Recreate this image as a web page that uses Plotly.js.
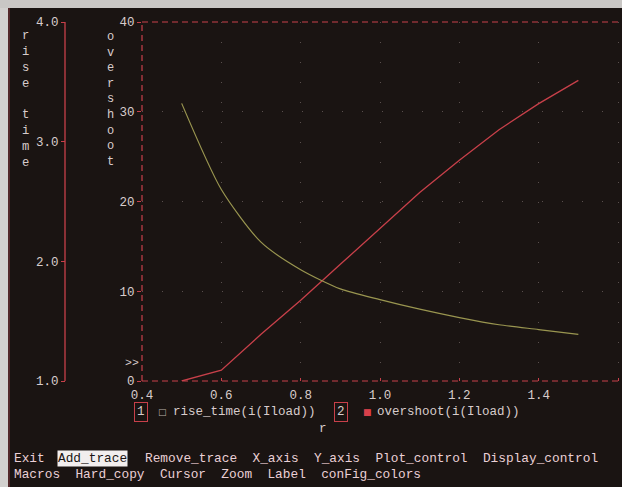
<!DOCTYPE html>
<html>
<head>
<meta charset="utf-8">
<script src="https://cdn.plot.ly/plotly-3.0.1.min.js"></script>
<style>
html,body{margin:0;padding:0;background:#1a1412;}
#chart{width:622px;height:487px;}
</style>
</head>
<body>
<div id="chart"></div>
<script>
// ---- data ----
const rValues = [0.5, 0.6, 0.7, 0.8, 0.9, 1.0, 1.1, 1.2, 1.3, 1.4, 1.5];
const riseTime = [3.32, 2.60, 2.16, 1.93, 1.77, 1.68, 1.60, 1.53, 1.47, 1.43, 1.39];
const overshoot = [0.0, 1.2, 5.2, 9.0, 13.0, 17.0, 21.0, 24.6, 28.0, 30.9, 33.5];
const xTicks = [0.4, 0.6, 0.8, 1.0, 1.2, 1.4, 1.6];
const overshootTicks = [0, 10, 20, 30, 40];
const riseTimeTicks = [1.0, 2.0, 3.0, 4.0];
const traceNames = ["rise_time(i(Iload))", "overshoot(i(Iload))"];
const menuLine1 = ["Exit", "Add_trace", "Remove_trace", "X_axis", "Y_axis", "Plot_control", "Display_control"];
const menuLine2 = ["Macros", "Hard_copy", "Cursor", "Zoom", "Label", "conFig_colors"];

// ---- styling ----
const W = 622, H = 487;
const BG = "#1a1412";
const RED = "#c8404a";
const OLIVE = "#9a9650";
const TXT = "#d8cccc";
const MENU = "#ead0d6";
const FONT = "Liberation Mono, DejaVu Sans Mono, monospace";
const px = x => x / W;
const py = y => 1 - y / H;

const plotL = 142, plotT = 22, plotB = 381, axis2X = 65;
const CH = 7.68; // monospace char width at 12.8px

const traces = [
  {x: rValues, y: riseTime, yaxis: "y2", type: "scatter", mode: "lines",
   line: {color: OLIVE, width: 1.2, shape: "spline", smoothing: 0.7}, name: traceNames[0], hoverinfo: "skip"},
  {x: rValues, y: overshoot, yaxis: "y", type: "scatter", mode: "lines",
   line: {color: RED, width: 1.3}, name: traceNames[1], hoverinfo: "skip"}
];

const gridStyle = {showgrid: true, gridcolor: "rgba(210,190,190,0.35)", gridwidth: 1, griddash: "1px,19px"};

const shapes = [
  // dashed plot frame (left, top, bottom)
  {type: "line", xref: "paper", yref: "paper", x0: px(plotL), x1: px(plotL), y0: py(plotB), y1: py(plotT),
   line: {color: RED, width: 1.2, dash: "6px,4px"}},
  {type: "line", xref: "paper", yref: "paper", x0: px(plotL), x1: 1, y0: py(plotT), y1: py(plotT),
   line: {color: RED, width: 1.2, dash: "6px,4px"}},
  {type: "line", xref: "paper", yref: "paper", x0: px(plotL), x1: 1, y0: py(plotB), y1: py(plotB),
   line: {color: RED, width: 1.2, dash: "6px,4px"}},
  // solid rise-time axis line
  {type: "line", xref: "paper", yref: "paper", x0: px(axis2X), x1: px(axis2X), y0: py(plotB), y1: py(plotT),
   line: {color: RED, width: 1.3}},
  // photo borders
  {type: "rect", xref: "paper", yref: "paper", x0: 0, x1: px(8), y0: 0, y1: 1, fillcolor: "#d2d0ce", line: {width: 0}, layer: "above"},
  {type: "rect", xref: "paper", yref: "paper", x0: 0, x1: 1, y0: py(8), y1: 1, fillcolor: "#c9c7c5", line: {width: 0}, layer: "above"},
  {type: "line", xref: "paper", yref: "paper", x0: px(9), x1: px(9), y0: 0, y1: py(8), line: {color: "#8a3a40", width: 1}}
];

const ann = [];
function addText(text, x, y, opts) {
  ann.push(Object.assign({xref: "paper", yref: "paper", x: px(x), y: py(y), text: text, showarrow: false,
    xanchor: "left", yanchor: "middle", font: {family: FONT, size: 12.5, color: TXT}}, opts || {}));
}
// vertical axis titles
addText("r<br>i<br>s<br>e<br> <br>t<br>i<br>m<br>e", 25, 100, {xanchor: "center", font: {family: FONT, size: 12.2, color: TXT}});
addText("o<br>v<br>e<br>r<br>s<br>h<br>o<br>o<br>t", 110, 100, {xanchor: "center", font: {family: FONT, size: 12.0, color: TXT}});
addText("&gt;&gt;", 132, 362, {xanchor: "center", font: {family: FONT, size: 11.5, color: TXT}});
// legend row
addText("1", 140.5, 412, {xanchor: "center", bordercolor: RED, borderwidth: 1, borderpad: 2});
addText("\u25A1", 162, 412, {xanchor: "center", font: {family: "DejaVu Sans", size: 9, color: "#b8b0a8"}});
addText(traceNames[0], 171, 412);
addText("2", 340.5, 412, {xanchor: "center", bordercolor: RED, borderwidth: 1, borderpad: 2});
addText("\u25A0", 367, 412, {xanchor: "center", font: {family: "DejaVu Sans", size: 9, color: "#d8404a"}});
addText(traceNames[1], 375, 412);
// x-axis title
addText("r", 323, 429, {xanchor: "center"});
// menu
const NB = "\u00a0\u00a0";
const menuFont = {family: FONT, size: 12.8, color: MENU};
addText(menuLine1[0], 12, 458, {font: menuFont});
addText(menuLine1[1], 12 + CH * (menuLine1[0].length + 2) - 1, 458,
  {font: {family: FONT, size: 12.8, color: "#1a1412"}, bgcolor: "#f2eeee", borderpad: 0});
addText(menuLine1.slice(2).join(NB), 12 + CH * (menuLine1[0].length + menuLine1[1].length + 4), 458, {font: menuFont});
addText(menuLine2.join(NB), 12, 474, {font: menuFont});

const layout = {
  width: W, height: H,
  margin: {l: 0, r: 0, t: 0, b: 0, pad: 0},
  paper_bgcolor: BG, plot_bgcolor: BG,
  showlegend: false,
  xaxis: Object.assign({
    domain: [px(plotL), 1], anchor: "y", range: [0.4, 1.61],
    tickvals: xTicks, ticktext: xTicks.map(v => v.toFixed(1)),
    ticks: "inside", ticklen: 3, tickcolor: RED, ticklabelstandoff: 4,
    showline: false, zeroline: false, automargin: false,
    tickfont: {family: FONT, size: 12.5, color: TXT}
  }, gridStyle),
  yaxis: Object.assign({
    domain: [py(plotB), py(plotT)], anchor: "x", range: [0, 40],
    tickvals: overshootTicks, ticktext: overshootTicks.map(String),
    ticks: "outside", ticklen: 4, tickcolor: RED,
    showline: false, zeroline: false, automargin: false,
    tickfont: {family: FONT, size: 12.5, color: TXT}
  }, gridStyle),
  yaxis2: {
    overlaying: "y", anchor: "free", position: px(axis2X), side: "left",
    range: [1, 4], tickvals: riseTimeTicks, ticktext: riseTimeTicks.map(v => v.toFixed(1)),
    ticks: "outside", ticklen: 4, tickcolor: RED,
    showline: false,
    showgrid: false, zeroline: false, automargin: false,
    tickfont: {family: FONT, size: 12.5, color: TXT}
  },
  shapes: shapes,
  annotations: ann
};

Plotly.newPlot("chart", traces, layout, {staticPlot: true, displayModeBar: false});
</script>
</body>
</html>
